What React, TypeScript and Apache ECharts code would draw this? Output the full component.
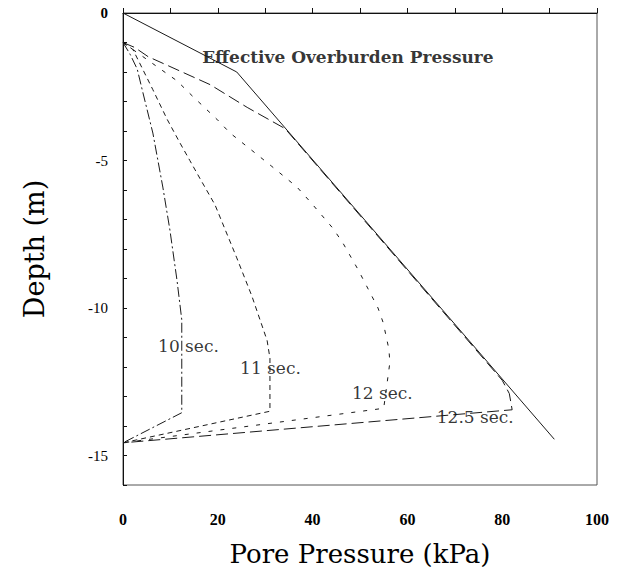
import React, { useEffect, useRef } from "react";
import * as echarts from "echarts";

// Effective overburden pressure
const overburdenX = [0, 24, 91];
const overburdenY = [0, -2, -14.45];

// Pore pressure profiles at various times
const t10X = [0, 1.5, 3.0, 4.2, 6.3, 8.4, 9.9, 11.4, 12.4, 12.4, 0];
const t10Y = [-1, -1.4, -1.9, -2.7, -4.07, -5.9, -7.36, -9.07, -10.4, -13.55, -14.57];

const t11X = [0, 2.1, 4.2, 6.3, 9.3, 12.0, 14.1, 16.2, 19.4, 24.0, 27.2, 30.4, 31.0, 31.0, 0];
const t11Y = [-1, -1.24, -1.92, -2.6, -3.6, -4.4, -5.0, -5.6, -6.5, -8.3, -9.6, -11.1, -11.7, -13.5, -14.57];

const t12X = [0, 2.1, 11.4, 14.8, 19.8, 22.6, 28.3, 31.4, 36.7, 39.5, 44.3, 46.4, 49.6, 53.8, 54.9, 56.1, 56.3, 55.0, 0];
const t12Y = [-1, -1.24, -2.3, -2.84, -3.6, -4.07, -4.8, -5.2, -5.9, -6.4, -7.3, -7.8, -8.7, -10.0, -10.5, -11.4, -11.85, -13.4, -14.57];

const t125X = [0, 2.5, 5.3, 18.4, 26.2, 34.2, 80.0, 81.5, 82.1, 0];
const t125Y = [-1, -1.17, -1.48, -2.43, -3.2, -3.92, -12.45, -12.9, -13.45, -14.57];

// Annotation labels (value coordinates of their left edge / vertical middle)
const annoText = ["Effective Overburden Pressure", "10 sec.", "11 sec.", "12 sec.", "12.5 sec."];
const annoX = [16.7, 7.4, 24.7, 48.3, 66.2];
const annoY = [-1.48, -11.3, -12.05, -12.87, -13.7];
const annoBold = [true, false, false, false, false];

const xTickLabels = [0, 20, 40, 60, 80, 100];
const yTickLabels = [0, -5, -10, -15];

const pairs = (xs: number[], ys: number[]) => xs.map((x, i) => [x, ys[i]]);

export default function App() {
  const ref = useRef<HTMLDivElement>(null);
  useEffect(() => {
    if (!ref.current) return;
    const chart = echarts.init(ref.current, undefined, { renderer: "svg" });
    const line = (name: string, xs: number[], ys: number[], type: any) => ({
      type: "line",
      name,
      data: pairs(xs, ys),
      symbol: "none",
      showSymbol: false,
      silent: true,
      lineStyle: { color: "#1a1a1a", width: 1, type },
    });
    chart.setOption({
      animation: false,
      backgroundColor: "#ffffff",
      grid: {
        left: 123,
        right: 24,
        top: 13,
        bottom: 88,
        show: true,
        borderColor: "#555",
        borderWidth: 1,
      },
      xAxis: {
        type: "value",
        min: 0,
        max: 100,
        interval: 10,
        name: "Pore Pressure (kPa)",
        nameLocation: "middle",
        nameGap: 56,
        nameTextStyle: { fontFamily: "DejaVu Serif", fontSize: 26, color: "#000" },
        axisLine: { show: true, lineStyle: { color: "#111", width: 1 } },
        axisTick: { show: true, inside: true, length: 5, lineStyle: { color: "#111" } },
        splitLine: { show: false },
        axisLabel: {
          interval: 0,
          margin: 26,
          fontFamily: "Liberation Serif",
          fontWeight: "bold",
          fontSize: 16,
          color: "#000",
          formatter: (v: number) => (xTickLabels.includes(Math.round(v)) ? String(Math.round(v)) : ""),
        },
      },
      yAxis: {
        type: "value",
        min: -16,
        max: 0,
        interval: 1,
        name: "Depth (m)",
        nameLocation: "middle",
        nameGap: 75,
        nameTextStyle: { fontFamily: "DejaVu Serif", fontSize: 27, color: "#000" },
        axisLine: { show: true, lineStyle: { color: "#111", width: 1 } },
        axisTick: { show: true, inside: true, length: 4, lineStyle: { color: "#111" } },
        splitLine: { show: false },
        axisLabel: {
          interval: 0,
          margin: 15,
          fontFamily: "Liberation Serif",
          fontSize: 15,
          color: "#000",
          formatter: (v: number) => {
            const r = Math.round(v);
            if (!yTickLabels.includes(r)) return "";
            return r === 0 ? "{b|0}" : String(r);
          },
          rich: { b: { fontWeight: "bold", fontFamily: "Liberation Serif", fontSize: 15, color: "#000" } },
        },
      },
      series: [
        line("Effective Overburden Pressure", overburdenX, overburdenY, "solid"),
        line("10 sec.", t10X, t10Y, [10, 3, 2, 3]),
        line("11 sec.", t11X, t11Y, [5, 4]),
        line("12 sec.", t12X, t12Y, [4, 8]),
        line("12.5 sec.", t125X, t125Y, [12, 5]),
        {
          type: "scatter",
          name: "labels",
          symbolSize: 0,
          silent: true,
          data: annoText.map((t, i) => ({
            value: [annoX[i], annoY[i]],
            label: {
              show: true,
              position: "right",
              distance: 0,
              formatter: t,
              fontFamily: "DejaVu Serif",
              fontWeight: annoBold[i] ? "bold" : "normal",
              fontSize: 17,
              color: "#000",
            },
          })),
        },
      ],
    });
    return () => chart.dispose();
  }, []);
  return (
    <div
      ref={ref}
      style={{ position: "fixed", left: 0, top: 0, width: 621, height: 573, background: "#fff" }}
    />
  );
}
